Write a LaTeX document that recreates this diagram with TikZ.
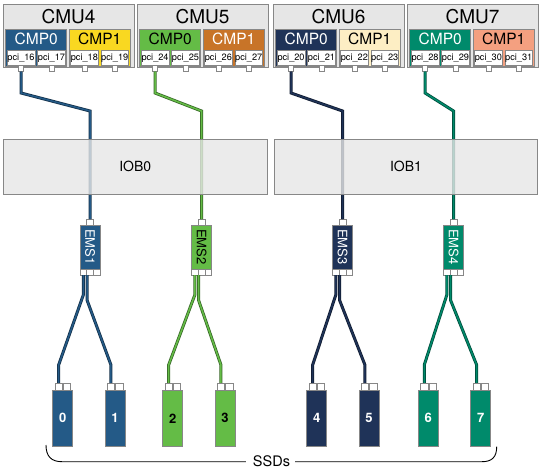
\documentclass[tikz,border=0pt]{standalone}
\usepackage{fontspec}
\setmainfont{TeX Gyre Heros}
\usepackage{xcolor}
\usetikzlibrary{positioning}

\definecolor{boxgray}{RGB}{230,230,230}
\definecolor{boxline}{RGB}{135,135,135}
\definecolor{cmpblue}{RGB}{36,90,135}
\definecolor{cmpyellow}{RGB}{249,216,33}
\definecolor{cmpgreen}{RGB}{100,188,70}
\definecolor{cmporange}{RGB}{200,116,40}
\definecolor{cmpnavy}{RGB}{31,51,88}
\definecolor{cmpcream}{RGB}{253,238,196}
\definecolor{cmpteal}{RGB}{0,138,107}
\definecolor{cmpsalmon}{RGB}{244,160,128}

\begin{document}
\begin{tikzpicture}[x=1pt, y=-1pt, every node/.style={inner sep=0pt, outer sep=0pt},
    box/.style={rectangle, draw=boxline, line width=0.8pt, fill=boxgray, anchor=north west},
    cmp/.style={rectangle, draw=boxline, line width=0.6pt, anchor=north west, minimum width=61pt, minimum height=37.5pt},
    pci/.style={rectangle, draw=boxline, line width=0.6pt, fill=white, anchor=north west, minimum width=27.5pt, minimum height=15.5pt, font=\fontsize{9.2}{10}\selectfont},
    port/.style={rectangle, draw=boxline, line width=0.6pt, fill=white, minimum width=5pt, minimum height=6pt},
    ems/.style={rectangle, draw=boxline, line width=0.6pt, minimum width=20pt, minimum height=44pt, font=\fontsize{13}{13}\selectfont},
    ssd/.style={rectangle, draw=boxline, line width=0.6pt, minimum width=20pt, minimum height=56.7pt, font=\bfseries\fontsize{13}{13}\selectfont},
    cable/.style={line width=0.75pt, double distance=1.5pt, draw=#1!55!black, double=#1},
    iob/.style={box, fill opacity=0.8, text opacity=1, minimum width=264.5pt, minimum height=55pt, font=\fontsize{14}{14}\selectfont}]

    \useasboundingbox (0,0) rectangle (540,471);

    \foreach \u/\x/\ca/\ta/\cb/\tb/\p in {4/3/cmpblue/white/cmpyellow/black/16, 5/137/cmpgreen/black/cmporange/white/24, 6/273/cmpnavy/white/cmpcream/black/20, 7/407/cmpteal/white/cmpsalmon/black/28} {
        \node[box, minimum width=131pt, minimum height=63pt] (CMU\u) at (\x,4) {};
        \node[font=\fontsize{19}{19}\selectfont] (CMU\u label) at ([yshift=-12.5pt]CMU\u.north) {CMU\u};
        \node[cmp, fill=\ca] (CMU\u cmp0) at (\x+2.7,29) {};
        \node[cmp, fill=\cb, minimum width=61.5pt] (CMU\u cmp1) at (\x+66,29) {};
        \node[text=\ta, font=\fontsize{15.5}{16}\selectfont] (CMU\u cmp0 label) at ([yshift=-10pt]CMU\u cmp0.north) {CMP0};
        \node[text=\tb, font=\fontsize{15.5}{16}\selectfont] (CMU\u cmp1 label) at ([yshift=-10pt]CMU\u cmp1.north) {CMP1};
        \foreach \dx [count=\i from 0] in {4.3,34.7,67.6,98} {
            \pgfmathtruncatemacro\n{\p+\i}
            \node[pci] (pci\n) at (\x+\dx,50) {pci\_\n};
            \node[port, below=0pt of pci\n] (port\n) {};
        }
    }

    \foreach \e/\ex/\col/\tc in {1/90/cmpblue/white, 2/201.5/cmpgreen/black, 3/342.5/cmpnavy/white, 4/453.5/cmpteal/white} {
        \node[ems, fill=\col, text=\tc] (EMS\e) at (\ex,247) {\rotatebox{-90}{EMS\e}};
        \node[port, minimum width=6.7pt, above=0pt of EMS\e] (EMS\e in) {};
        \node[port, minimum width=6.7pt, below=0pt of EMS\e] (EMS\e b) {};
        \node[port, minimum width=6.7pt, left=0pt of EMS\e b] (EMS\e a) {};
        \node[port, minimum width=6.7pt, right=0pt of EMS\e b] (EMS\e c) {};
    }

    \foreach \s/\sx/\col/\tc in {0/62.7/cmpblue/white, 1/115/cmpblue/white, 2/172.7/cmpgreen/black, 3/225/cmpgreen/black, 4/316.7/cmpnavy/white, 5/369/cmpnavy/white, 6/428.3/cmpteal/white, 7/480.7/cmpteal/white} {
        \node[ssd, fill=\col, text=\tc] (SSD\s) at (\sx,418.3) {\s};
        \node[port, minimum width=7.3pt, minimum height=7pt, anchor=south west] (SSD\s a) at ([xshift=2.3pt]SSD\s.north west) {};
        \node[port, minimum width=7.3pt, minimum height=7pt, right=1pt of SSD\s a] (SSD\s b) {};
    }

    \foreach \e/\src/\ex/\l/\r/\col in {1/16/90/0/1/cmpblue, 2/24/201.5/2/3/cmpgreen, 3/20/342.5/4/5/cmpnavy, 4/28/453.5/6/7/cmpteal} {
        \draw[cable=\col] (port\src.south) -- ++(0,21.5) -- (\ex,111) -- (EMS\e in.north);
        \draw[cable=\col] (EMS\e a.south) -- ++(0,20) -- ([yshift=18pt]SSD\l a.north) -- (SSD\l a.north);
        \draw[cable=\col] ([xshift=-3pt]EMS\e b.south) -- ++(0,25) -- ([yshift=18pt]SSD\r a.north) -- (SSD\r a.north);
    }

    \node[iob] (IOB0) at (3,139) {IOB0};
    \node[iob, minimum width=263pt] (IOB1) at (274.5,139) {IOB1};

    \node[font=\fontsize{14.5}{15}\selectfont] (SSDs) at (271.5,461.7) {SSDs};
    \coordinate (brace left) at (46,445);
    \coordinate (brace right) at (496.7,446.7);
    \draw[line width=0.9pt] (brace left) .. controls (46,456) and (51,461.7) .. (62,461.7) -- ([xshift=-7pt]SSDs.west);
    \draw[line width=0.9pt] ([xshift=5pt]SSDs.east) -- (482,461.7) .. controls (492,461.7) and (496.7,457) .. (brace right);

\end{tikzpicture}
\end{document}
